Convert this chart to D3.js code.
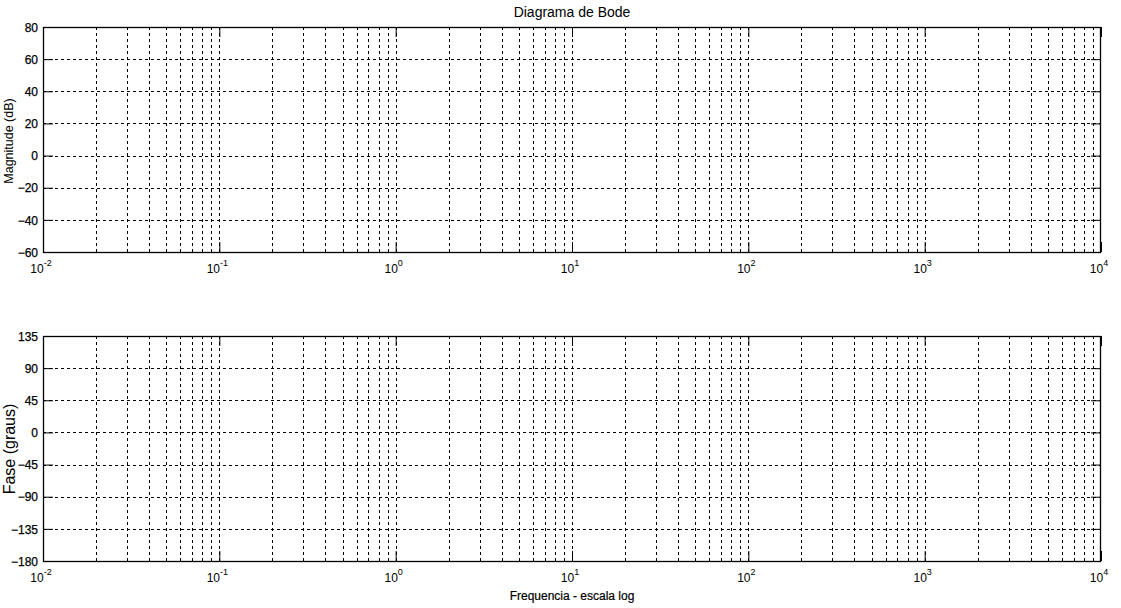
<!DOCTYPE html>
<html><head><meta charset="utf-8">
<script src="https://cdn.jsdelivr.net/npm/d3@7"></script>
<style>
body{margin:0;background:#fff;}
text{font-family:Arial,"Liberation Sans",sans-serif;fill:#000;}
</style></head>
<body>
<svg id="c" width="1121" height="608"></svg>
<script>
const xDomain = [0.01, 10000];
const xMajorExponents = [-2, -1, 0, 1, 2, 3, 4];
const magTicks = [-60, -40, -20, 0, 20, 40, 60, 80];
const magDomain = [-60, 80];
const phaseTicks = [-180, -135, -90, -45, 0, 45, 90, 135];
const phaseDomain = [-180, 135];
const title = "Diagrama de Bode";
const magLabel = "Magnitude (dB)";
const phaseLabel = "Fase (graus)";
const xLabel = "Frequencia - escala log";

const svg = d3.select("#c");
const L = 43, R = 1101;
const x = d3.scaleLog().domain(xDomain).range([L, R]);

const allTicks = [];
for (let e = -2; e < 4; e++) for (let m = 1; m < 10; m++) allTicks.push(m * Math.pow(10, e));
allTicks.push(10000);
const TL = 10;

function panel(top, bottom, domain, ticks, ylabel, ylabelSize, ylabelCenter) {
  const y = d3.scaleLinear().domain(domain).range([bottom, top]);
  const g = svg.append("g");
  g.selectAll(".gv").data(allTicks.filter(t => t > xDomain[0] && t < xDomain[1])).enter().append("line")
    .attr("x1", d => Math.round(x(d)) + 0.5).attr("x2", d => Math.round(x(d)) + 0.5)
    .attr("y1", top).attr("y2", bottom)
    .attr("stroke", "#000").attr("stroke-width", 1).attr("stroke-dasharray", "3,3");
  g.selectAll(".gh").data(ticks.filter(t => t > domain[0] && t < domain[1])).enter().append("line")
    .attr("x1", L).attr("x2", R)
    .attr("y1", d => Math.round(y(d)) + 0.5).attr("y2", d => Math.round(y(d)) + 0.5)
    .attr("stroke", "#000").attr("stroke-width", 1).attr("stroke-dasharray", "3,3");
  const ax = d3.axisLeft(y).tickValues(ticks).tickSize(-TL).tickPadding(5).tickFormat(d3.format("d"));
  const gl = g.append("g").attr("transform", `translate(${L},0)`).call(ax);
  gl.select(".domain").remove();
  gl.selectAll("text").style("font-size", "12px").style("font-family", "Arial,'Liberation Sans',sans-serif")
    .attr("dy", "0.35em").attr("stroke", "#000").attr("stroke-width", 0.25);
  const gr = g.append("g").attr("transform", `translate(${R},0)`).call(d3.axisRight(y).tickValues(ticks).tickSize(-TL).tickFormat(""));
  gr.select(".domain").remove();
  const gb = g.append("g").attr("transform", `translate(0,${bottom})`).call(d3.axisBottom(x).tickValues(xMajorExponents.map(e => Math.pow(10, e))).tickSize(-TL).tickFormat(""));
  gb.select(".domain").remove();
  const gt = g.append("g").attr("transform", `translate(0,${top})`).call(d3.axisTop(x).tickValues(xMajorExponents.map(e => Math.pow(10, e))).tickSize(-TL).tickFormat(""));
  gt.select(".domain").remove();
  g.selectAll(".tick line").attr("stroke", "#000").attr("stroke-width", 1);
  g.append("rect").attr("x", L + 0.5).attr("y", top + 0.5).attr("width", R - L - 1).attr("height", bottom - top)
    .attr("fill", "none").attr("stroke", "#000").attr("stroke-width", 1.3);
  const lbl = g.selectAll(".xl").data(xMajorExponents).enter().append("text")
    .attr("x", d => x(Math.pow(10, d)) - 2).attr("y", bottom + 21)
    .attr("text-anchor", "middle").style("font-size", "12px");
  lbl.append("tspan").text("10");
  lbl.append("tspan").attr("dy", -7).style("font-size", "9px").text(d => d);
  svg.append("text").attr("transform", `translate(${ylabelCenter[0]},${ylabelCenter[1]}) rotate(-90)`)
    .attr("text-anchor", "middle").style("font-size", ylabelSize).text(ylabel);
}

panel(27, 252, magDomain, magTicks, magLabel, "12.5px", [13, 141]);
panel(336, 561, phaseDomain, phaseTicks, phaseLabel, "16px", [15, 449]);

svg.append("text").attr("x", 572).attr("y", 17).attr("text-anchor", "middle").style("font-size", "14px").text(title);
svg.append("text").attr("x", 572).attr("y", 600).attr("text-anchor", "middle").style("font-size", "12px")
  .attr("stroke", "#000").attr("stroke-width", 0.2).text(xLabel);
</script>
</body></html>
